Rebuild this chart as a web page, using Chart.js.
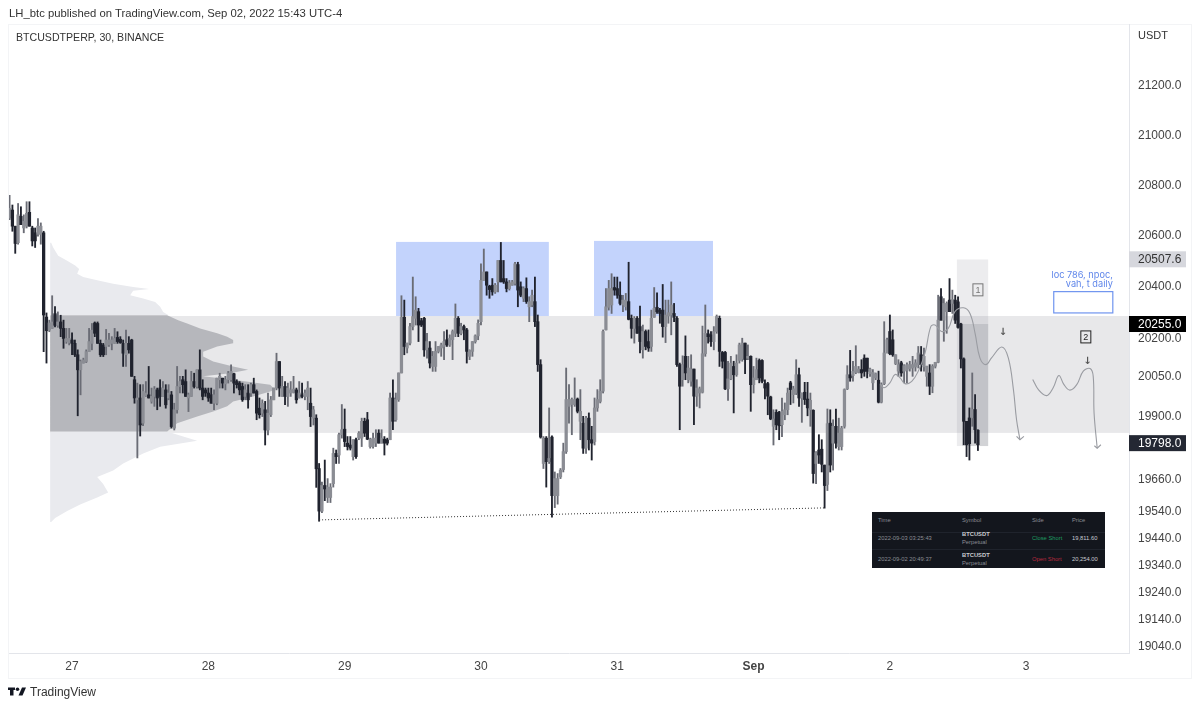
<!DOCTYPE html>
<html>
<head>
<meta charset="utf-8">
<title>BTCUSDTPERP</title>
<script src="https://cdn.jsdelivr.net/npm/chart.js@4"></script>
<style>
    html, body { margin: 0; padding: 0; background: #fff; }
    body { width: 1200px; height: 708px; overflow: hidden; position: relative; font-family: "Liberation Sans", sans-serif; color: #333; }
    canvas { position: absolute; left: 0; top: 0; }
    .txt { position: absolute; white-space: nowrap; }
    #frame { position: absolute; left: 8px; top: 24px; width: 1182px; height: 653px; border: 1px solid #f3f4f6; }
    #trades { position: absolute; left: 872px; top: 512px; width: 233px; height: 56px; background: #13161d; color: #8a8d94; font-size: 5.8px; }
    #trades div { position: absolute; white-space: nowrap; }
    #trades .rule { left: 0; width: 233px; height: 1px; background: #1f232c; }
    #trades b { color: #c9cbd0; }
</style>
</head>
<body>
<div id="frame"></div>
<canvas id="btcChart" width="1200" height="708"></canvas>
<div class="txt" style="left:9px;top:7px;font-size:11.3px;">LH_btc published on TradingView.com, Sep 02, 2022 15:43 UTC-4</div>
<div class="txt" style="left:16px;top:31px;font-size:10.6px;">BTCUSDTPERP, 30, BINANCE</div>
<div class="txt" style="left:1138px;top:29px;font-size:11px;">USDT</div>
<svg style="position:absolute;left:8px;top:686px;" width="18" height="11" viewBox="0 0 36 20"><path fill="#131722" d="M14 2H0v5h4v11h7V7h3zM29 18h-8l7-16h8z"/><circle fill="#131722" cx="19" cy="5.5" r="3.5"/></svg>
<div class="txt" style="left:30px;top:685px;font-size:12px;">TradingView</div>
<div id="trades">
    <div style="left:6px;top:5px;">Time</div><div style="left:90px;top:5px;">Symbol</div><div style="left:160px;top:5px;">Side</div><div style="left:200px;top:5px;">Price</div>
    <div class="rule" style="top:20px;"></div><div class="rule" style="top:37px;"></div>
    <div style="left:6px;top:23px;">2022-09-03 03:25:43</div><div style="left:90px;top:19px;"><b>BTCUSDT</b></div><div style="left:90px;top:27px;">Perpetual</div><div style="left:160px;top:23px;color:#1e9e62;">Close Short</div><div style="left:200px;top:23px;color:#c9cbd0;">19,811.60</div>
    <div style="left:6px;top:44px;">2022-09-02 20:49:37</div><div style="left:90px;top:40px;"><b>BTCUSDT</b></div><div style="left:90px;top:48px;">Perpetual</div><div style="left:160px;top:44px;color:#b8293f;">Open Short</div><div style="left:200px;top:44px;color:#c9cbd0;">20,254.00</div>
</div>
<script>
// 30 minute candles
const opens = [
    20670,20702,20638,20573,20677,20631,20638,20693,20631,20612,
    20606,20606,20612,20282,20231,20238,20295,20250,20263,20238,
    20187,20183,20193,20180,20136,20078,20104,20110,20148,20180,
    20259,20257,20180,20174,20168,20174,20180,20180,20203,20196,
    20180,20136,20180,20193,20040,19963,19970,19874,19979,19982,
    19957,19976,20001,20008,19976,20001,19970,19982,19855,19925,
    20014,20040,20033,19970,19976,20033,20014,20078,20008,20001,
    19989,19982,19950,19950,20040,20046,20024,20040,20040,20063,
    20033,20027,20014,19976,19989,19989,20021,19995,19931,19912,
    19925,19848,19906,19963,20008,20110,19976,20014,19976,19989,
    19991,20001,19970,19982,19976,19976,19950,19893,19893,19702,
    19542,19638,19593,19593,19645,19759,19753,19830,19851,19798,
    19791,19747,19811,19817,19817,19881,19887,19785,19785,19798,
    19836,19798,19813,19811,19811,19970,19887,19964,20066,20281,
    20162,20181,20245,20277,20303,20268,20277,20155,20162,20091,
    20091,20149,20162,20168,20194,20174,20194,20219,20277,20219,
    20245,20232,20130,20149,20187,20209,20264,20425,20458,20402,
    20406,20380,20419,20503,20432,20419,20393,20406,20413,20487,
    20400,20355,20393,20322,20329,20342,20264,20098,19721,19817,
    19728,19821,19600,19600,19670,19698,19766,19938,19945,19945,
    19966,19881,19874,19779,19893,19811,19804,19932,19957,19996,
    20232,20320,20329,20397,20393,20367,20329,20322,20342,20277,
    20238,20277,20245,20155,20226,20187,20168,20281,20320,20309,
    20309,20245,20286,20290,20296,20277,20098,20040,20130,20040,
    20034,20081,19977,19989,19992,20140,20217,20213,20187,20226,
    20277,20145,20145,20005,20043,20091,20059,20114,20120,20181,
    20123,20130,20021,20040,20114,20114,20025,20025,19974,19862,
    19915,19915,19868,19906,19925,20028,19983,19989,20059,19970,
    19992,19966,19925,19923,19721,19772,19775,19715,19642,19874,
    19798,19862,19785,19785,19862,20005,20059,20056,20068,20068,
    20079,20123,20123,20063,20028,20047,20038,19954,20025,20143,
    20226,20194,20102,20073,20105,20073,20076,20082,20085,20089,
    20098,20136,20089,20053,20066,20015,20092,20107,20361,20270,
    20303,20348,20335,20348,20341,20255,20120,19881,19894,19894,
    19926,19847
];
const highs = [
    20760,20722,20638,20728,20715,20683,20735,20735,20638,20631,
    20668,20651,20618,20298,20270,20365,20323,20302,20289,20270,
    20238,20238,20221,20193,20155,20116,20123,20155,20238,20257,
    20263,20263,20193,20180,20234,20219,20206,20238,20225,20206,
    20193,20231,20206,20196,20053,20027,20021,20021,20033,20091,
    20008,20014,20008,20040,20033,20021,20021,19995,19950,20091,
    20053,20053,20078,19989,20072,20065,20078,20155,20040,20008,
    20008,20008,20001,20046,20065,20046,20053,20072,20097,20065,
    20040,20033,20027,20021,20021,20027,20046,20001,19970,19963,
    19957,19989,19976,20008,20142,20110,20053,20033,20027,20033,
    20053,20008,20033,20027,20001,20033,20008,19938,19906,19721,
    19651,19734,19664,19645,19779,19772,19836,19945,19928,19823,
    19823,19811,19817,19842,19893,19893,19915,19817,19836,19849,
    19849,19849,19823,19817,19989,20040,19989,20066,20365,20348,
    20181,20258,20438,20361,20316,20277,20281,20219,20187,20149,
    20187,20168,20181,20226,20232,20213,20232,20333,20284,20258,
    20251,20238,20155,20187,20213,20271,20490,20548,20458,20406,
    20432,20413,20503,20574,20503,20432,20425,20425,20496,20496,
    20419,20400,20435,20361,20387,20438,20290,20117,19823,19823,
    19932,19826,19689,19683,19702,19798,20085,20021,19970,20047,
    19970,20002,19900,19900,19913,19862,19970,20002,20040,20232,
    20393,20425,20451,20438,20438,20419,20367,20374,20496,20290,
    20284,20284,20325,20251,20232,20232,20309,20397,20376,20316,
    20409,20348,20348,20419,20335,20284,20104,20132,20209,20130,
    20136,20081,20040,20012,20247,20329,20232,20226,20245,20290,
    20286,20149,20149,20111,20130,20111,20136,20181,20200,20181,
    20174,20132,20091,20123,20120,20117,20040,20030,19977,19925,
    19925,19919,19970,19951,20008,20034,20015,20117,20085,19989,
    20030,20030,19989,19925,19766,19830,19811,19715,19928,19925,
    19887,19928,19893,19862,20005,20094,20153,20111,20171,20091,
    20117,20136,20123,20085,20079,20066,20073,20028,20264,20200,
    20290,20232,20136,20117,20111,20098,20105,20111,20130,20117,
    20168,20168,20162,20092,20098,20098,20107,20367,20393,20354,
    20341,20432,20387,20367,20361,20258,20124,19881,19932,20066,
    19983,19849
];
const lows = [
    20664,20618,20531,20567,20644,20612,20631,20638,20560,20554,
    20599,20567,20148,20104,20225,20238,20244,20242,20206,20161,
    20180,20174,20136,20129,19902,19982,20104,20106,20148,20155,
    20206,20180,20129,20129,20136,20168,20155,20180,20180,20180,
    20091,20091,20142,20053,19950,19742,19825,19864,19976,19970,
    19950,19938,19925,19938,19976,19931,19963,19855,19848,19912,
    19989,19989,19976,19918,19976,20008,20008,20001,19963,19976,
    19957,19950,19925,19944,20008,20008,20001,20027,20033,19989,
    20008,19982,19957,19963,19931,19976,19989,19887,19893,19899,
    19791,19829,19899,19963,20001,19976,19976,19944,19938,19976,
    19989,19950,19970,19970,19963,19925,19861,19867,19631,19504,
    19536,19581,19574,19574,19632,19721,19721,19817,19785,19772,
    19772,19734,19740,19811,19785,19823,19811,19779,19779,19785,
    19798,19798,19753,19791,19811,19849,19881,19957,20066,20136,
    20143,20174,20232,20251,20187,20245,20130,20123,20085,20072,
    20072,20143,20130,20117,20168,20168,20117,20206,20206,20213,
    20194,20104,20117,20130,20181,20194,20251,20425,20367,20355,
    20367,20374,20380,20419,20413,20380,20387,20406,20406,20322,
    20361,20342,20335,20264,20322,20245,20072,19817,19702,19632,
    19721,19519,19555,19568,19664,19689,19759,19874,19830,19938,
    19913,19811,19759,19759,19772,19734,19791,19919,19951,19989,
    20232,20309,20296,20367,20355,20329,20303,20309,20271,20200,
    20181,20219,20143,20123,20155,20149,20149,20281,20296,20258,
    20204,20183,20258,20213,20264,20091,19849,20015,20040,20028,
    20015,19868,19938,19932,19989,20130,20181,20168,20155,20219,
    20091,20085,20002,19961,20040,19913,20053,20104,20111,20063,
    20117,19919,19989,20040,20028,20028,19966,19906,19887,19791,
    19849,19811,19823,19887,19906,19945,19951,19983,19938,19877,
    19945,19902,19862,19647,19645,19721,19689,19553,19619,19689,
    19696,19779,19772,19772,19855,20002,20034,20034,20063,20066,
    20047,20053,20047,20053,20002,20040,19951,19951,20021,20143,
    20136,20130,20098,20053,20053,20028,20028,20073,20053,20073,
    20085,20073,20073,20015,19983,19990,20085,20105,20270,20188,
    20219,20303,20296,20257,20239,20085,19792,19747,19734,19862,
    19798,19770
];
const closes = [
    20709,20638,20570,20683,20644,20657,20689,20638,20580,20580,
    20638,20638,20290,20229,20259,20263,20250,20263,20238,20199,
    20199,20199,20180,20136,20078,20110,20116,20148,20187,20231,
    20219,20180,20136,20136,20193,20193,20193,20199,20187,20183,
    20142,20180,20155,20053,19970,19970,19867,19995,19989,19970,
    19976,20004,19970,19976,20008,19944,19989,19861,19925,20014,
    20033,20021,19976,19982,20033,20014,20078,20008,19976,19989,
    19970,19950,19982,20046,20053,20027,20040,20065,20072,20027,
    20021,20001,19963,20001,19963,20021,19989,19912,19906,19950,
    19848,19912,19963,20008,20110,20008,20014,19976,20008,20001,
    20004,19963,19989,19976,19989,20008,19899,19925,19701,19542,
    19638,19625,19632,19632,19759,19747,19830,19849,19804,19785,
    19779,19811,19747,19836,19881,19836,19813,19813,19817,19817,
    19798,19817,19798,19798,19970,19881,19964,20066,20281,20168,
    20181,20245,20284,20309,20251,20251,20155,20187,20104,20130,
    20149,20168,20174,20187,20174,20200,20226,20277,20219,20245,
    20232,20149,20153,20187,20209,20258,20425,20458,20406,20389,
    20380,20406,20503,20419,20419,20393,20415,20419,20490,20387,
    20367,20393,20342,20342,20367,20264,20098,19821,19817,19728,
    19740,19600,19664,19664,19696,19766,19964,19964,19964,19964,
    19919,19919,19779,19893,19811,19798,19932,19964,19996,20226,
    20322,20393,20393,20387,20367,20335,20348,20348,20273,20238,
    20277,20219,20187,20226,20168,20162,20277,20316,20303,20296,
    20245,20290,20299,20329,20281,20098,20015,20098,20066,20085,
    20081,19977,20008,20005,20140,20219,20206,20187,20226,20284,
    20149,20111,20005,20043,20104,20059,20104,20174,20181,20117,
    20130,20021,20047,20079,20047,20034,20008,19977,19890,19890,
    19868,19864,19919,19925,19989,20002,20005,20059,19970,19989,
    19964,19932,19961,19683,19762,19753,19718,19638,19872,19715,
    19862,19798,19836,19855,20002,20059,20047,20072,20091,20081,
    20066,20072,20072,20081,20068,20063,19954,20021,20143,20194,
    20140,20136,20136,20098,20066,20094,20098,20098,20098,20105,
    20143,20098,20130,20092,20015,20092,20107,20270,20270,20335,
    20335,20303,20350,20270,20242,20120,19881,19792,19796,19926,
    19849,19792
];

// time axis: candle index of each day label
const dayTicks = [22, 70, 118, 166, 214, 262, 310, 358];
const dayLabels = ["27", "28", "29", "30", "31", "Sep", "2", "3"];
const priceTicks = [21200, 21000, 20800, 20600, 20400, 20200, 20050, 19900, 19660, 19540, 19440, 19340, 19240, 19140, 19040];

// volume profile at the left (price level / volume)
const profileUpperPrices = [20573,20554,20522,20502,20483,20470,20451,20438,20425,20412,20399,20391,20384,20367,20354,20341,20322,20302,20290];
const profileUpperVolumes = [1,3,8,17,25,29,27,33,47,63,83,99,83,80,93,105,110,113,118];
const profileValuePrices = [20289,20270,20257,20238,20219,20206,20193,20180,20168,20148,20129,20110,20091,20078,20065,20053,20040,20021,20001,19976,19957,19938,19918,19899,19874,19842];
const profileValueVolumes = [117,128,137,150,167,177,183,183,167,153,153,163,183,198,180,153,183,220,225,203,183,177,163,147,127,117];
const profileLowerPrices = [19842,19823,19807,19784,19759,19721,19695,19670,19644,19612,19593,19567,19542,19516,19501];
const profileLowerVolumes = [117,133,147,110,93,73,63,47,53,58,47,30,17,5,1];

// dotted low line and the two hand drawn paths
const lowLineX = [109, 286.8];
const lowLineY = [19509, 19554];
const pathAX = [306.5,307.9,310,311.8,313.6,315.3,317.7,320,322.4,324.4,325.9,328.2,330.6,332.9,335.9,338.2,340,341.7,343.8,345.8,349.4,351.7,353.5,354.6,355.8];
const pathAY = [20025,20009,20028,20060,20047,20025,20034,20073,20143,20245,20251,20226,20239,20303,20318,20296,20219,20124,20098,20124,20166,20124,20002,19887,19811];
const headAX = [354.6, 355.8, 357.2];
const headAY = [19824, 19811, 19824];
const pathBX = [360.3,362.3,365.2,367.5,369.5,371.3,373.4,375.8,378.1,380.5,381.6,381.9,383];
const pathBY = [20041,20002,19979,20009,20056,20021,20000,20021,20073,20083,20053,19913,19779];
const headBX = [382, 383, 384.3];
const headBY = [19788, 19779, 19792];

const toPoints = (xs, ys) => xs.map((x, i) => ({ x, y: ys[i] }));
// profile sits on the time axis: baseline at candle 14.3, 2.84 volume units per candle
const profileX = (v) => 14.3 + v / 2.84;
const profilePolygon = (prices, volumes) => [
    { x: profileX(0), y: prices[0] },
    ...prices.map((p, i) => ({ x: profileX(volumes[i]), y: p })),
    { x: profileX(0), y: prices[prices.length - 1] }
];

const isUp = closes.map((c, i) => c >= opens[i]);
const bodyColors = isUp.map((u) => (u ? "#8b8d94" : "#20232e"));
const wickColors = isUp.map((u) => (u ? "#6a6c75" : "#20232e"));

function profileDataset(data, color) {
    return {
        type: "line",
        data,
        order: 5,
        fill: "shape",
        backgroundColor: color,
        borderWidth: 0,
        pointRadius: 0,
        tension: 0
    };
}

function pathDataset(xs, ys, tension) {
    return {
        type: "line",
        data: toPoints(xs, ys),
        order: 2,
        borderColor: "#9a9ca2",
        borderWidth: 1.1,
        pointRadius: 0,
        tension,
        fill: false
    };
}

// rectangles drawn behind the candles, in candle index / price
const shadePlugin = {
    id: "shades",
    beforeDatasetsDraw(chart) {
        const { ctx, scales: { x, y } } = chart;
        const box = (x0, x1, p0, p1, color) => {
            ctx.fillStyle = color;
            ctx.fillRect(x.getPixelForValue(x0), y.getPixelForValue(p0), x.getPixelForValue(x1) - x.getPixelForValue(x0), y.getPixelForValue(p1) - y.getPixelForValue(p0));
        };
        box(14.3, 394.2, 20286, 19837, "#e8e8ea");
        box(136.1, 189.9, 20576, 20286, "#c3d3fc");
        box(205.8, 247.7, 20580, 20286, "#c3d3fc");
        box(333.6, 344.6, 20507, 19787, "rgba(120,123,134,0.14)");
        box(335.4, 344.6, 20255, 19787, "rgba(120,123,134,0.22)");
    },
    afterDraw(chart) {
        const { ctx, scales: { x, y } } = chart;
        const priceY = (p) => y.getPixelForValue(p);

        // price tags on the axis
        const tags = [
            [20507.6, "#d6d7dd", "#333"],
            [20255.0, "#000000", "#fff"],
            [19798.0, "#242833", "#fff"]
        ];
        ctx.font = "12px 'Liberation Sans'";
        ctx.textBaseline = "middle";
        ctx.textAlign = "left";
        tags.forEach(([p, bg, fg]) => {
            const py = priceY(p);
            ctx.fillStyle = bg;
            ctx.fillRect(1129, py - 8, 57, 16);
            ctx.fillStyle = fg;
            ctx.fillText(p.toFixed(1), 1138, py + 0.5);
        });

        // blue target box and its note
        ctx.strokeStyle = "#6f94ef";
        ctx.lineWidth = 1.2;
        ctx.strokeRect(x.getPixelForValue(367.7), priceY(20381), x.getPixelForValue(388.5) - x.getPixelForValue(367.7), priceY(20298) - priceY(20381));
        ctx.font = "9.2px Inter";
        ctx.fillStyle = "#5f86ea";
        ctx.textAlign = "right";
        ctx.fillText("loc 786, npoc,", x.getPixelForValue(388.5), priceY(20446));
        ctx.fillText("vah, t daily", x.getPixelForValue(388.5), priceY(20411));

        // numbered boxes
        ctx.textAlign = "center";
        [["1", 341, 20388, "#777"], ["2", 379, 20205, "#222"]].forEach(([t, i, p, c]) => {
            const px = x.getPixelForValue(i);
            const py = priceY(p);
            ctx.strokeStyle = c;
            ctx.lineWidth = 1;
            ctx.strokeRect(px - 5, py - 6, 10, 12);
            ctx.fillStyle = c;
            ctx.font = "9px 'Liberation Sans'";
            ctx.fillText(t, px, py + 0.5);
        });

        // small down arrows
        ctx.font = "bold 10px 'DejaVu Sans'";
        ctx.fillStyle = "#555";
        ctx.fillText("\u2193", x.getPixelForValue(349.8), priceY(20224));
        ctx.fillText("\u2193", x.getPixelForValue(379.6), priceY(20109));
    }
};

new Chart(document.getElementById("btcChart"), {
    type: "bar",
    plugins: [shadePlugin],
    data: {
        datasets: [
            profileDataset(profilePolygon(profileUpperPrices, profileUpperVolumes), "#e9eaee"),
            profileDataset(profilePolygon(profileValuePrices, profileValueVolumes), "#b6b7bc"),
            profileDataset(profilePolygon(profileLowerPrices, profileLowerVolumes), "#e9eaee"),
            {
                data: highs.map((h, i) => ({ x: i, y: [lows[i], h] })),
                backgroundColor: wickColors,
                barThickness: 1.2,
                grouped: false,
                order: 4
            },
            {
                data: closes.map((c, i) => ({ x: i, y: [opens[i], c] })),
                backgroundColor: bodyColors,
                barThickness: 2.6,
                minBarLength: 1,
                grouped: false,
                order: 3
            },
            {
                type: "line",
                data: toPoints(lowLineX, lowLineY),
                order: 2,
                borderColor: "#333",
                borderWidth: 1,
                borderDash: [1, 2],
                pointRadius: 0,
                fill: false
            },
            pathDataset(pathAX, pathAY, 0.4),
            pathDataset(headAX, headAY, 0),
            pathDataset(pathBX, pathBY, 0.4),
            pathDataset(headBX, headBY, 0)
        ]
    },
    options: {
        responsive: false,
        animation: false,
        devicePixelRatio: 1,
        layout: { padding: { left: 9, top: 24, right: 0, bottom: 30 } },
        plugins: { legend: { display: false }, tooltip: { enabled: false } },
        scales: {
            x: {
                type: "linear",
                offset: false,
                min: -0.2,
                max: 394.2,
                grid: { display: false, offset: false, drawTicks: false },
                border: { color: "#e3e5ea" },
                afterBuildTicks(scale) {
                    scale.ticks = dayTicks.map((value) => ({ value }));
                },
                afterFit(scale) {
                    scale.height = 25;
                },
                ticks: {
                    autoSkip: false,
                    maxRotation: 0,
                    padding: 6,
                    color: "#444",
                    font: (ctx) => ({ family: "'Liberation Sans'", size: 12, weight: ctx.index === 5 ? "bold" : "normal" }),
                    callback: (value) => dayLabels[dayTicks.indexOf(value)]
                }
            },
            y: {
                type: "logarithmic",
                position: "right",
                min: 19018,
                max: 21453,
                grid: { display: false, drawTicks: false },
                border: { color: "#e3e5ea" },
                afterBuildTicks(scale) {
                    scale.ticks = priceTicks.map((value) => ({ value }));
                },
                afterFit(scale) {
                    scale.width = 71;
                },
                ticks: {
                    autoSkip: false,
                    padding: 9,
                    color: "#444",
                    font: { family: "'Liberation Sans'", size: 12 },
                    callback: (value) => value.toFixed(1)
                }
            }
        }
    }
});
</script>
</body>
</html>
